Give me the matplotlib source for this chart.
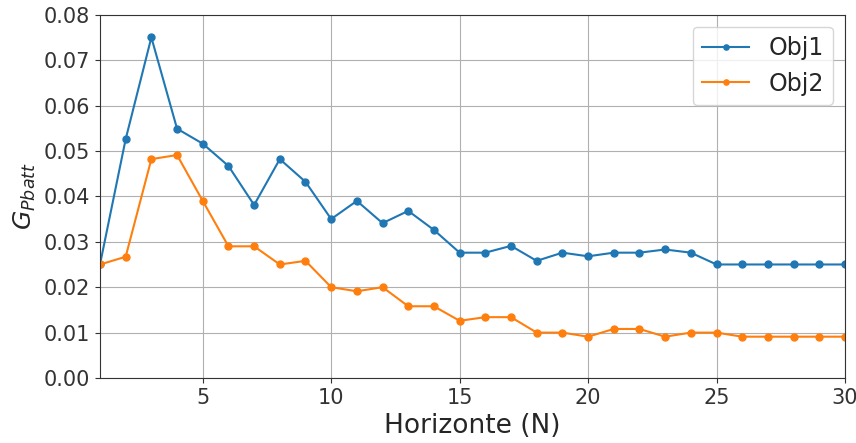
import matplotlib
matplotlib.use("Agg")
import matplotlib.pyplot as plt

horizon = list(range(1, 31))
obj1 = [0.025, 0.0526, 0.075, 0.0549, 0.0516, 0.0467, 0.0381, 0.0482, 0.0432, 0.035,
        0.039, 0.0341, 0.0368, 0.0326, 0.0276, 0.0276, 0.0291, 0.0258, 0.0276, 0.0268,
        0.0276, 0.0276, 0.0283, 0.0276, 0.025, 0.025, 0.025, 0.025, 0.025, 0.025]
obj2 = [0.025, 0.0267, 0.0482, 0.0491, 0.039, 0.029, 0.029, 0.025, 0.0258, 0.02,
        0.0191, 0.02, 0.0158, 0.0158, 0.0126, 0.0134, 0.0134, 0.01, 0.01, 0.0091,
        0.0108, 0.0108, 0.0091, 0.01, 0.01, 0.0091, 0.0091, 0.0091, 0.0091, 0.0091]

text_color = "#262626"
plt.rcParams.update({
    "text.color": text_color,
    "axes.labelcolor": text_color,
    "xtick.color": "#333333",
    "ytick.color": "#333333",
    "axes.edgecolor": "#333333",
})

fig = plt.figure(figsize=(8.56, 4.43), dpi=100)
ax = fig.add_axes([0.1168, 0.1467, 0.8703, 0.8201])

ax.plot(horizon, obj1, marker="o", markersize=5, label="Obj1")
ax.plot(horizon, obj2, marker="o", markersize=5, label="Obj2")

ax.set_xlim(1, 30)
ax.set_ylim(0, 0.08)
ax.set_xticks([5, 10, 15, 20, 25, 30])
ax.set_yticks([0.00, 0.01, 0.02, 0.03, 0.04, 0.05, 0.06, 0.07, 0.08])
ax.yaxis.set_major_formatter(matplotlib.ticker.FormatStrFormatter("%.2f"))
ax.tick_params(labelsize=15)
ax.grid(True)

ax.set_xlabel("Horizonte (N)", fontsize=19)
ax.set_ylabel(r"$G_{Pbatt}$", fontsize=18)
ax.legend(loc="upper right", fontsize=17, markerscale=0.75)

fig.savefig("out.png", dpi=100)
